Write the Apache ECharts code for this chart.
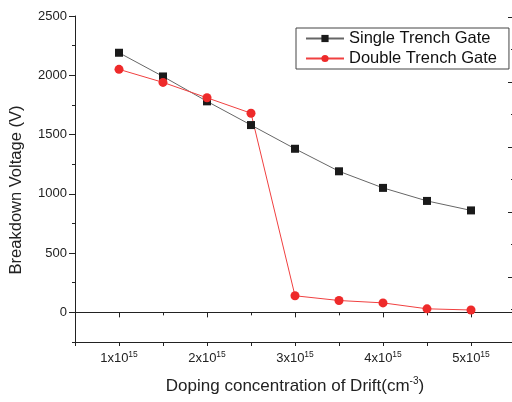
<!DOCTYPE html>
<html><head><meta charset="utf-8">
<script src="https://cdn.jsdelivr.net/npm/echarts@6/dist/echarts.min.js"></script>
<style>html,body{margin:0;padding:0;background:#fff}#c{width:512px;height:402px}</style>
</head><body><div id="c"></div>
<script>
const doping = [1, 1.5, 2, 2.5, 3, 3.5, 4, 4.5, 5]; // x10^15 cm^-3
const singleTrench = [2190, 1990, 1780, 1580, 1380, 1190, 1050, 940, 860];
const doubleTrench = [2050, 1940, 1810, 1680, 140, 100, 80, 30, 20];
const xMajor = [1, 2, 3, 4, 5];
const xMinor = [0.5, 1.5, 2.5, 3.5, 4.5, 5.5];
const yMajor = [0, 500, 1000, 1500, 2000, 2500];
const yMinor = [-250, 250, 750, 1250, 1750, 2250];
const rightMajor = [0, 1, 2, 3, 4, 5];
const rightMinor = [0.5, 1.5, 2.5, 3.5, 4.5];

const font = 'Liberation Sans, Arial, sans-serif';
const axisCol = '#222';
const chart = echarts.init(document.getElementById('c'));
const pair = (xs, ys) => xs.map((x, i) => [x, ys[i]]);
const base = {min: 0.5, max: 5.5, splitLine: {show: false}};
chart.setOption({
  animation: false,
  grid: {left: 75, top: 16, width: 440, bottom: 60, containLabel: false, outerBoundsMode: 'none'},
  legend: {
    left: 296, top: 28, orient: 'vertical', itemGap: 3, itemWidth: 38, itemHeight: 9,
    borderColor: '#444', borderWidth: 1, padding: [2, 12, 2, 9], borderRadius: 0,
    textStyle: {fontFamily: font, fontSize: 16.5, color: '#111'},
    data: ['Single Trench Gate', 'Double Trench Gate']
  },
  xAxis: [
    Object.assign({}, base, {
      type: 'value', position: 'bottom',
      axisLine: {lineStyle: {color: axisCol, width: 1}},
      axisTick: {customValues: xMajor, length: 5, lineStyle: {color: axisCol}},
      axisLabel: {customValues: xMajor, margin: 8, color: '#222',
        formatter: v => '{a|' + v + 'x10}{b|15}',
        rich: {a: {fontFamily: font, fontSize: 13, color: '#222'},
               b: {fontFamily: font, fontSize: 8.5, color: '#222', verticalAlign: 'top', padding: [0, 0, 8, 0]}}},
      name: '{a|Doping concentration of Drift(cm}{b|-3}{a|)}', nameLocation: 'middle', nameGap: 34,
      nameTextStyle: {rich: {a: {fontFamily: font, fontSize: 17, color: '#222'},
        b: {fontFamily: font, fontSize: 10, color: '#222', verticalAlign: 'top', padding: [0, 0, 10, 0]}}}
    }),
    Object.assign({}, base, {
      type: 'value', position: 'bottom', axisLine: {show: false},
      axisTick: {customValues: xMinor, length: 3, lineStyle: {color: axisCol}},
      axisLabel: {show: false}
    }),
    Object.assign({}, base, {
      type: 'value', position: 'top',
      axisLine: {lineStyle: {color: axisCol, width: 1}},
      axisTick: {customValues: xMajor.concat(xMinor), inside: true, length: 4, lineStyle: {color: axisCol}},
      axisLabel: {show: false}
    })
  ],
  yAxis: [
    {
      type: 'value', min: -250, max: 2500, position: 'left', splitLine: {show: false},
      axisLine: {show: true, lineStyle: {color: axisCol, width: 1}},
      axisTick: {show: true, customValues: yMajor, length: 6, lineStyle: {color: axisCol}},
      axisLabel: {customValues: yMajor, margin: 8, fontFamily: font, fontSize: 13, color: '#222',
        formatter: v => String(v)},
      name: 'Breakdown Voltage (V)', nameLocation: 'middle', nameGap: 50, nameRotate: 90,
      nameTextStyle: {fontFamily: font, fontSize: 16.5, color: '#222', padding: [0, 22, 0, 0]}
    },
    {
      type: 'value', min: -250, max: 2500, position: 'left', splitLine: {show: false},
      axisLine: {show: false},
      axisTick: {show: true, customValues: yMinor, length: 3, lineStyle: {color: axisCol}},
      axisLabel: {show: false}
    },
    {
      type: 'value', min: 0, max: 5.015, position: 'right', splitLine: {show: false},
      axisLine: {show: true, lineStyle: {color: axisCol, width: 1}},
      axisTick: {show: true, inside: true, customValues: rightMajor, length: 7, lineStyle: {color: axisCol}},
      axisLabel: {show: false}
    },
    {
      type: 'value', min: 0, max: 5.015, position: 'right', splitLine: {show: false},
      axisLine: {show: false},
      axisTick: {show: true, inside: true, customValues: rightMinor, length: 4, lineStyle: {color: axisCol}},
      axisLabel: {show: false}
    }
  ],
  series: [
    {
      name: 'Single Trench Gate', type: 'line', data: pair(doping, singleTrench),
      symbol: 'rect', symbolSize: 8, itemStyle: {color: '#1a1a1a'},
      lineStyle: {color: '#666', width: 1}
    },
    {
      name: 'Double Trench Gate', type: 'line', data: pair(doping, doubleTrench),
      symbol: 'circle', symbolSize: 9, itemStyle: {color: '#ee2a2a'},
      lineStyle: {color: '#f04040', width: 1}
    }
  ]
});
</script></body></html>
